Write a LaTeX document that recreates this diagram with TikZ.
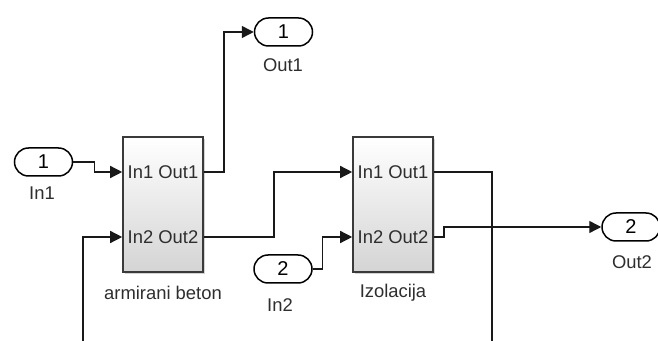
\documentclass[tikz,border=0pt]{standalone}
\usepackage{fontspec}
\setmainfont{Liberation Sans}
\usetikzlibrary{arrows.meta,shadows}
\definecolor{blockedge}{HTML}{3A3A3A}
\definecolor{blockgray}{HTML}{D4D4D4}
\definecolor{labelgray}{HTML}{2E2E2E}
\tikzset{
  subsystem/.style={draw=blockedge,line width=0.8pt,top color=white,
    bottom color=blockgray,minimum width=40pt,minimum height=67.5pt,
    inner sep=0pt,drop shadow={shadow xshift=1pt,shadow yshift=-1pt,
    opacity=0.35}},
  port/.style={draw=black,fill=white,line width=0.75pt,rounded corners=7pt,
    minimum width=29pt,minimum height=14pt,inner sep=0pt,
    font=\fontsize{10}{11}\selectfont},
  portrow/.style={inner sep=0pt,text=labelgray,font=\fontsize{9.2}{10}\selectfont},
  caption/.style={inner sep=0pt,text=labelgray,font=\fontsize{9.2}{10}\selectfont},
  wire/.style={draw=black!90,line width=0.7pt},
  signal/.style={wire,-{Triangle[length=6pt,width=6pt]}}
}

\begin{document}
\begin{tikzpicture}[x=0.5pt,y=-0.5pt]
  \useasboundingbox (0,0) rectangle (658,341);
  % subsystems
  \node[subsystem] (b1) at (163,204.5) {};
  \node[subsystem] (b2) at (393,204.5) {};
  \node[portrow] (b1r1) at (163,172) {In1 Out1};
  \node[portrow] (b1r2) at (163,237) {In2 Out2};
  \node[portrow] (b2r1) at (393,172) {In1 Out1};
  \node[portrow] (b2r2) at (393,237) {In2 Out2};
  \node[caption] (b1name) at (163,293) {armirani beton};
  \node[caption] (b2name) at (393,293) {Izolacija};
  % ports
  \node[port] (in1) at (43.5,162) {1};
  \node[port] (in2) at (283,269) {2};
  \node[port] (out1) at (283.5,32) {1};
  \node[port] (out2) at (631,227) {2};
  \node[caption] (in1name) at (42,193) {In1};
  \node[caption] (in2name) at (280,305) {In2};
  \node[caption] (out1name) at (283,65) {Out1};
  \node[caption] (out2name) at (632,262) {Out2};
  \coordinate (cut1) at (83,341);
  \coordinate (cut2) at (492,341);
  % signals
  \draw[signal] (in1.east) -- ++(21,0) |- (b1.west |- b1r1);
  \draw[signal] (cut1) |- (b1.west |- b1r2);
  \draw[signal] (b1.east |- b1r1) -- ++(20,0) |- (out1.west);
  \draw[signal] (b1.east |- b1r2) -- ++(70,0) |- (b2.west |- b2r1);
  \draw[signal] (in2.east) -- ++(10,0) |- (b2.west |- b2r2);
  \draw[wire] (b2.east |- b2r1) -| (cut2);
  \draw[signal] (b2.east |- b2r2) -- ++(10,0) |- (out2.west);
\end{tikzpicture}
\end{document}
